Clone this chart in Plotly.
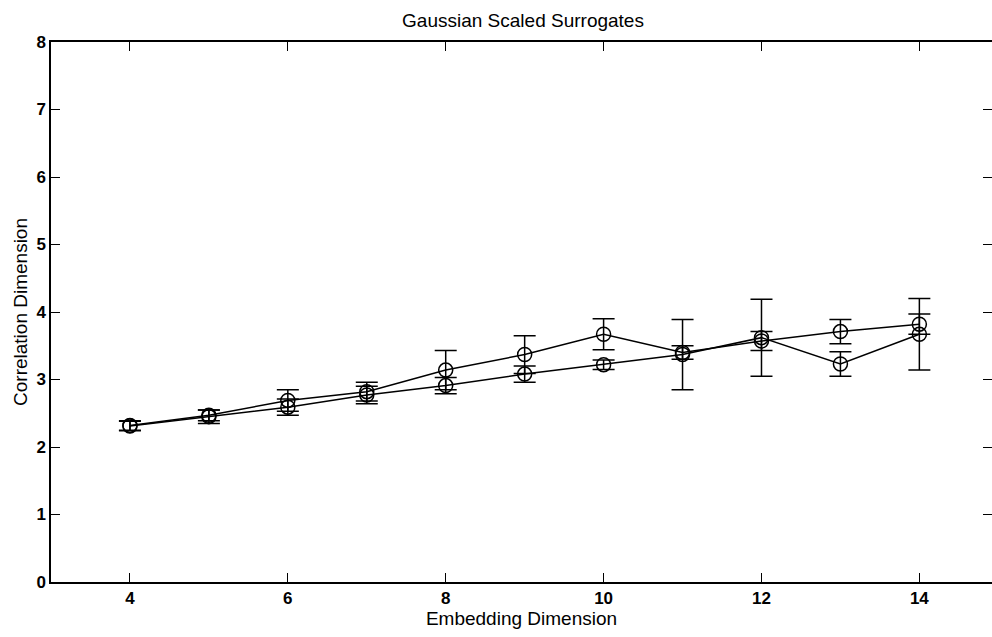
import plotly.graph_objects as go

embedding_dims = [4, 5, 6, 7, 8, 9, 10, 11, 12, 13, 14]

series_a = [2.32, 2.47, 2.69, 2.82, 3.14, 3.37, 3.67, 3.40, 3.57, 3.71, 3.82]
series_a_err = [0.07, 0.08, 0.16, 0.14, 0.29, 0.28, 0.23, 0.10, 0.14, 0.18, 0.15]

series_b = [2.31, 2.45, 2.59, 2.77, 2.91, 3.08, 3.22, 3.37, 3.62, 3.23, 3.67]
series_b_err = [0.07, 0.10, 0.12, 0.13, 0.12, 0.12, 0.07, 0.52, 0.57, 0.18, 0.53]

x_ticks = [4, 6, 8, 10, 12, 14]
y_ticks = [0, 1, 2, 3, 4, 5, 6, 7, 8]

FONT = "Liberation Sans, Arial, sans-serif"

fig = go.Figure()
for ys, es, yax in [(series_a, series_a_err, "y"), (series_b, series_b_err, "y2")]:
    fig.add_trace(go.Scatter(
        x=embedding_dims, y=ys, yaxis=yax,
        mode="lines+markers",
        line=dict(color="black", width=1.5),
        marker=dict(symbol="circle-open", size=14, color="black",
                    line=dict(width=1.5, color="black")),
        error_y=dict(type="data", array=es, visible=True, color="black",
                     thickness=1.5, width=11),
        showlegend=False,
    ))

tick_common = dict(
    ticks="inside", ticklen=9, tickwidth=1.3, tickcolor="black",
    showgrid=False, zeroline=False,
    tickfont=dict(family=FONT, size=17, color="black", weight="bold"),
)

fig.update_layout(
    width=992, height=637,
    margin=dict(l=51, r=0, t=42, b=55),
    paper_bgcolor="white", plot_bgcolor="white",
    title=dict(text="Gaussian Scaled Surrogates", x=523 / 992, xanchor="center",
               y=1 - 20 / 637, yanchor="middle",
               font=dict(family=FONT, size=19, color="black")),
    xaxis=dict(range=[3, 14.92], tickvals=x_ticks,
               showline=True, linecolor="black", linewidth=1.5, mirror="ticks",
               title=dict(text="Embedding Dimension", standoff=1,
                          font=dict(family=FONT, size=19, color="black")),
               **tick_common),
    yaxis=dict(range=[0, 8], tickvals=y_ticks,
               showline=True, linecolor="black", linewidth=1.5, mirror=False,
               title=dict(text="Correlation Dimension", standoff=4,
                          font=dict(family=FONT, size=19, color="black")),
               **tick_common),
    yaxis2=dict(range=[0, 8], tickvals=y_ticks, overlaying="y", side="right",
                showline=False, showticklabels=False, **tick_common),
)

fig.write_html(
    "out.html",
    config={"displayModeBar": False},
    post_script="document.body.style.margin='0';document.body.style.overflow='hidden';",
)
